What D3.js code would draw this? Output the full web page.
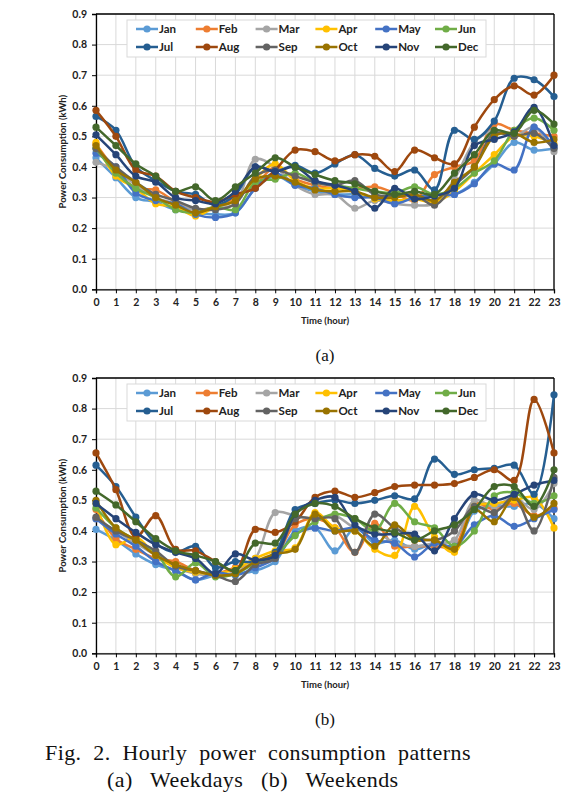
<!DOCTYPE html>
<html><head><meta charset="utf-8">
<script src="https://cdnjs.cloudflare.com/ajax/libs/d3/7.8.5/d3.min.js"></script>
<style>body{margin:0;background:#fff;}svg{display:block;}</style>
</head><body>
<svg id="c" width="579" height="805"></svg>
<script>
const months = ["Jan","Feb","Mar","Apr","May","Jun","Jul","Aug","Sep","Oct","Nov","Dec"];
const colors = ["#5B9BD5","#ED7D31","#A5A5A5","#FFC000","#4472C4","#70AD47","#255E91","#9E480E","#636363","#997300","#264478","#43682B"];
const hours = d3.range(0,24);
const yTicks = [0,0.1,0.2,0.3,0.4,0.5,0.6,0.7,0.8,0.9];

// Weekdays (a)
const wdJan = [0.43,0.365,0.30,0.285,0.26,0.25,0.245,0.25,0.33,0.37,0.34,0.32,0.31,0.31,0.30,0.285,0.30,0.31,0.31,0.35,0.41,0.48,0.455,0.46];
const wdFeb = [0.475,0.39,0.33,0.325,0.285,0.26,0.27,0.30,0.34,0.40,0.36,0.34,0.33,0.33,0.335,0.315,0.29,0.375,0.40,0.42,0.54,0.52,0.51,0.50];
const wdMar = [0.415,0.39,0.34,0.30,0.28,0.26,0.265,0.28,0.425,0.40,0.34,0.31,0.31,0.265,0.29,0.28,0.275,0.28,0.36,0.48,0.52,0.50,0.53,0.45];
const wdApr = [0.48,0.37,0.33,0.28,0.27,0.24,0.27,0.29,0.36,0.41,0.355,0.33,0.33,0.32,0.295,0.29,0.295,0.285,0.32,0.38,0.44,0.50,0.50,0.475];
const wdMay = [0.445,0.40,0.315,0.29,0.28,0.245,0.235,0.25,0.33,0.38,0.34,0.33,0.31,0.30,0.30,0.28,0.30,0.31,0.31,0.345,0.41,0.39,0.53,0.465];
const wdJun = [0.46,0.38,0.33,0.30,0.26,0.25,0.27,0.26,0.35,0.36,0.38,0.35,0.34,0.33,0.32,0.315,0.335,0.31,0.33,0.38,0.42,0.52,0.56,0.52];
const wdJul = [0.565,0.52,0.40,0.355,0.32,0.31,0.275,0.31,0.40,0.385,0.405,0.38,0.41,0.44,0.395,0.37,0.39,0.325,0.52,0.49,0.55,0.69,0.685,0.63];
const wdAug = [0.585,0.50,0.39,0.37,0.32,0.30,0.285,0.31,0.33,0.39,0.455,0.45,0.42,0.44,0.435,0.385,0.455,0.43,0.41,0.53,0.62,0.665,0.635,0.70];
const wdSep = [0.46,0.40,0.35,0.31,0.29,0.265,0.26,0.28,0.37,0.39,0.37,0.35,0.34,0.355,0.31,0.305,0.31,0.275,0.34,0.40,0.51,0.50,0.51,0.46];
const wdOct = [0.47,0.39,0.35,0.30,0.275,0.25,0.27,0.29,0.36,0.37,0.35,0.325,0.32,0.32,0.30,0.30,0.31,0.29,0.35,0.40,0.50,0.51,0.48,0.49];
const wdNov = [0.505,0.44,0.37,0.35,0.30,0.29,0.28,0.32,0.40,0.385,0.40,0.355,0.34,0.32,0.265,0.33,0.295,0.305,0.33,0.47,0.49,0.515,0.595,0.47];
const wdDec = [0.53,0.47,0.41,0.37,0.32,0.335,0.29,0.335,0.38,0.43,0.40,0.375,0.355,0.345,0.32,0.31,0.32,0.31,0.38,0.44,0.52,0.51,0.585,0.54];

// Weekends (b)
const weJan = [0.405,0.37,0.325,0.29,0.27,0.24,0.255,0.26,0.27,0.30,0.40,0.41,0.335,0.41,0.36,0.37,0.34,0.36,0.34,0.465,0.48,0.48,0.49,0.44];
const weFeb = [0.47,0.375,0.34,0.31,0.30,0.27,0.26,0.28,0.29,0.32,0.42,0.44,0.41,0.33,0.425,0.35,0.35,0.35,0.35,0.49,0.47,0.49,0.45,0.475];
const weMar = [0.44,0.40,0.36,0.32,0.28,0.26,0.255,0.265,0.31,0.46,0.45,0.44,0.45,0.41,0.40,0.36,0.35,0.36,0.37,0.50,0.48,0.51,0.47,0.555];
const weApr = [0.49,0.355,0.38,0.32,0.28,0.265,0.26,0.275,0.31,0.335,0.345,0.46,0.41,0.40,0.34,0.32,0.48,0.38,0.33,0.48,0.49,0.50,0.51,0.41];
const weMay = [0.44,0.39,0.35,0.30,0.27,0.24,0.265,0.255,0.28,0.31,0.39,0.41,0.40,0.41,0.37,0.36,0.315,0.36,0.35,0.42,0.45,0.415,0.44,0.47];
const weJun = [0.475,0.41,0.37,0.33,0.25,0.295,0.25,0.26,0.295,0.32,0.385,0.43,0.455,0.44,0.40,0.49,0.43,0.41,0.35,0.40,0.515,0.525,0.49,0.515];
const weJul = [0.615,0.545,0.445,0.36,0.33,0.35,0.28,0.30,0.30,0.33,0.47,0.49,0.50,0.49,0.50,0.515,0.505,0.635,0.585,0.60,0.605,0.615,0.52,0.845];
const weAug = [0.655,0.535,0.38,0.45,0.34,0.335,0.30,0.27,0.405,0.395,0.43,0.51,0.53,0.51,0.525,0.545,0.55,0.55,0.555,0.575,0.60,0.565,0.83,0.655];
const weSep = [0.445,0.40,0.37,0.335,0.285,0.27,0.255,0.235,0.29,0.31,0.44,0.44,0.44,0.33,0.455,0.41,0.38,0.37,0.40,0.48,0.46,0.51,0.40,0.575];
const weOct = [0.50,0.41,0.37,0.32,0.29,0.27,0.255,0.26,0.30,0.325,0.34,0.455,0.40,0.40,0.35,0.42,0.37,0.37,0.34,0.47,0.43,0.51,0.445,0.49];
const weNov = [0.49,0.44,0.395,0.355,0.33,0.31,0.26,0.325,0.305,0.32,0.455,0.50,0.51,0.42,0.39,0.39,0.39,0.335,0.44,0.52,0.50,0.52,0.55,0.565];
const weDec = [0.53,0.485,0.43,0.375,0.335,0.32,0.30,0.27,0.36,0.36,0.455,0.49,0.48,0.44,0.41,0.395,0.37,0.40,0.42,0.47,0.545,0.545,0.48,0.60];

const weekday = [wdJan,wdFeb,wdMar,wdApr,wdMay,wdJun,wdJul,wdAug,wdSep,wdOct,wdNov,wdDec];
const weekend = [weJan,weFeb,weMar,weApr,weMay,weJun,weJul,weAug,weSep,weOct,weNov,weDec];

const svg = d3.select("#c");
const tickFont = "Lato, 'Open Sans', sans-serif";
const serif = "'Liberation Serif', 'Times New Roman', serif";

function drawChart(data, top, label) {
  const x = d3.scaleLinear().domain([0,23]).range([96,554]);
  const y = d3.scaleLinear().domain([0,0.9]).range([top+275.3, top]);
  const g = svg.append("g");
  g.selectAll(".hg").data(yTicks).join("line")
    .attr("x1",96).attr("x2",554).attr("y1",d=>y(d)).attr("y2",d=>y(d))
    .attr("stroke","#d9d9d9").attr("stroke-width",1);
  g.selectAll(".vg").data(hours).join("line")
    .attr("x1",d=>x(d)).attr("x2",d=>x(d)).attr("y1",y(0)).attr("y2",y(0.9))
    .attr("stroke","#d9d9d9").attr("stroke-width",1);
  const ya = d3.axisLeft(y).tickValues(yTicks).tickFormat(d3.format(".1f")).tickSize(4).tickPadding(5);
  const yg = g.append("g").attr("transform","translate(96,0)").call(ya);
  const xa = d3.axisBottom(x).tickValues(hours).tickFormat(d3.format("d")).tickSize(4).tickPadding(5);
  const xg = g.append("g").attr("transform",`translate(0,${y(0)})`).call(xa);
  [yg,xg].forEach(a=>{
    a.select(".domain").attr("stroke","#000").attr("stroke-width",1.3);
    a.selectAll(".tick line").attr("stroke","#000");
    a.selectAll("text").attr("font-family",tickFont).attr("font-weight","bold").attr("font-size","10.5px").attr("fill","#222");
  });
  g.append("line").attr("x1",96).attr("x2",554).attr("y1",y(0.9)).attr("y2",y(0.9)).attr("stroke","#000").attr("stroke-width",1.3);
  g.append("line").attr("x1",554).attr("x2",554).attr("y1",y(0.9)).attr("y2",y(0)).attr("stroke","#000").attr("stroke-width",1.3);

  const line = d3.line().x((d,i)=>x(i)).y(d=>y(d)).curve(d3.curveCatmullRom.alpha(0.5));
  data.forEach((s,k)=>{
    const sg = g.append("g");
    sg.append("path").attr("d",line(s)).attr("fill","none").attr("stroke",colors[k]).attr("stroke-width",2.5);
    sg.selectAll("circle").data(s).join("circle").attr("cx",(d,i)=>x(i)).attr("cy",d=>y(d)).attr("r",3.6).attr("fill",colors[k]);
  });

  const lg = g.append("g");
  lg.append("rect").attr("x",127).attr("y",top+6).attr("width",359).attr("height",37).attr("fill","#fff").attr("stroke","#d9d9d9");
  months.forEach((m,k)=>{
    const col = k%6, row = Math.floor(k/6);
    const lx = 136 + col*59.8, ly = top + 15 + row*18;
    lg.append("line").attr("x1",lx).attr("x2",lx+22).attr("y1",ly).attr("y2",ly).attr("stroke",colors[k]).attr("stroke-width",2.5);
    lg.append("circle").attr("cx",lx+11).attr("cy",ly).attr("r",3.6).attr("fill",colors[k]);
    lg.append("text").attr("x",lx+23).attr("y",ly).attr("dy","0.35em").text(m)
      .attr("font-family",tickFont).attr("font-weight","bold").attr("font-size","11.5px").attr("fill","#222");
  });

  g.append("text").attr("transform",`translate(66,${y(0.45)}) rotate(-90)`).attr("text-anchor","middle")
    .attr("font-family",tickFont).attr("font-weight","bold").attr("font-size","9.5px").attr("fill","#222").text("Power Consumption (kWh)");
  g.append("text").attr("x",325).attr("y",y(0)+35).attr("text-anchor","middle")
    .attr("font-family",tickFont).attr("font-weight","bold").attr("font-size","9.5px").attr("fill","#222").text("Time (hour)");
  g.append("text").attr("x",325).attr("y",y(0)+72).attr("text-anchor","middle")
    .attr("font-family",serif).attr("font-size","17px").attr("fill","#111").text(label);
}

drawChart(weekday, 14, "(a)");
drawChart(weekend, 378, "(b)");

svg.append("text").attr("x",45).attr("y",760).attr("font-family",serif)
  .attr("font-size","22px").attr("letter-spacing","0.4px").attr("word-spacing","6px").attr("fill","#111").text("Fig. 2. Hourly power consumption patterns");
svg.append("text").attr("x",107).attr("y",787).attr("font-family",serif)
  .attr("font-size","22px").attr("letter-spacing","0.4px").attr("word-spacing","12px").attr("fill","#111").text("(a) Weekdays (b) Weekends");
</script>
</body></html>
